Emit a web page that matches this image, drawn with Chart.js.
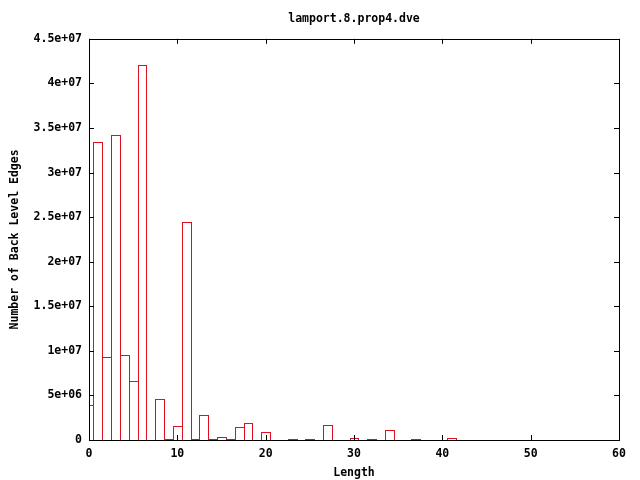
<!DOCTYPE html>
<html>
<head>
<meta charset="utf-8">
<script src="https://cdn.jsdelivr.net/npm/chart.js@4.4.1/dist/chart.umd.min.js"></script>
<style>
  html, body { margin: 0; padding: 0; background: #fff; }
  #wrap { width: 640px; height: 480px; }
</style>
</head>
<body>
<div id="wrap"><canvas id="chart" width="640" height="480"></canvas></div>
<script>
// lengths that appear in the data, and the edge count for each
const lengths = [0, 1, 2, 3, 4, 5, 6, 8, 9, 10, 11, 12, 13, 14, 15, 16, 17, 18, 20, 23, 25, 27, 30, 32, 34, 37, 41];
const edges = [3.96e6, 3.34e7, 9.34e6, 3.42e7, 9.56e6, 6.65e6, 4.21e7, 4.6e6, 1.0e5, 1.57e6, 2.44e7, 1.0e5, 2.84e6, 1.0e5,
               3.4e5, 1.0e5, 1.46e6, 1.9e6, 9.0e5, 1.0e5, 1.0e5, 1.72e6, 2.2e5, 1.0e5, 1.12e6, 1.0e5, 2.2e5];

const xTicks = [0, 10, 20, 30, 40, 50, 60];
const xTickLabels = ['0', '10', '20', '30', '40', '50', '60'];
const yTicks = [0, 5e6, 1e7, 1.5e7, 2e7, 2.5e7, 3e7, 3.5e7, 4e7, 4.5e7];
const yTickLabels = ['0', '5e+06', '1e+07', '1.5e+07', '2e+07', '2.5e+07', '3e+07', '3.5e+07', '4e+07', '4.5e+07'];

const FONT = { family: '"DejaVu Sans Mono", "Liberation Mono", monospace', size: 11.5, weight: 'bold' };

// snap box edges to whole pixels so neighbouring boxes share one 1px line
const snapPlugin = {
  id: 'snap',
  beforeDatasetsDraw(chart) {
    chart.getDatasetMeta(0).data.forEach(el => {
      const l = Math.round(el.x - el.width / 2);
      const r = Math.round(el.x + el.width / 2) + 1;
      el.x = (l + r) / 2;
      el.width = r - l;
      el.y = Math.round(el.y);
      el.base = Math.round(el.base) + 1;
      el.inflateAmount = 0;
    });
  }
};

// full box round the plot plus inward ticks on all four sides, like gnuplot
const framePlugin = {
  id: 'frame',
  afterDraw(chart) {
    const ctx = chart.ctx;
    const a = chart.chartArea;
    const tl = 5;
    ctx.save();
    ctx.strokeStyle = '#000';
    ctx.lineWidth = 1;
    ctx.beginPath();
    chart.scales.x.ticks.forEach(t => {
      const px = Math.round(chart.scales.x.getPixelForValue(t.value)) + 0.5;
      ctx.moveTo(px, a.bottom); ctx.lineTo(px, a.bottom - tl);
      ctx.moveTo(px, a.top); ctx.lineTo(px, a.top + tl);
    });
    chart.scales.y.ticks.forEach(t => {
      const py = Math.round(chart.scales.y.getPixelForValue(t.value)) + 0.5;
      ctx.moveTo(a.left, py); ctx.lineTo(a.left + tl, py);
      ctx.moveTo(a.right, py); ctx.lineTo(a.right - tl, py);
    });
    ctx.stroke();
    ctx.strokeRect(Math.round(a.left) + 0.5, Math.round(a.top) + 0.5,
                   Math.round(a.right - a.left), Math.round(a.bottom - a.top));
    ctx.restore();
  }
};

const points = lengths.map((l, i) => ({ x: l, y: edges[i] }));

new Chart(document.getElementById('chart'), {
  type: 'bar',
  data: {
    datasets: [{
      data: points,
      backgroundColor: 'rgba(255,255,255,0)',
      borderColor: 'rgb(224,16,32)',
      borderWidth: 1,
      borderSkipped: 'start',
      barPercentage: 1,
      categoryPercentage: 1,
      clip: 0
    }]
  },
  options: {
    responsive: false,
    animation: false,
    events: [],
    layout: { padding: { left: 0, right: 21, top: 0, bottom: 0 } },
    plugins: {
      legend: { display: false },
      tooltip: { enabled: false },
      title: {
        display: true,
        text: 'lamport.8.prop4.dve',
        color: '#000',
        font: FONT,
        fullSize: false,
        padding: { top: 12, bottom: 13 }
      }
    },
    scales: {
      x: {
        type: 'linear',
        min: 0,
        max: 60,
        offset: false,
        grid: { display: false, drawTicks: false },
        border: { display: false },
        afterBuildTicks: s => { s.ticks = xTicks.map(v => ({ value: v })); },
        ticks: {
          color: '#000',
          font: FONT,
          padding: 7,
          maxRotation: 0,
          callback: (v, i) => xTickLabels[i]
        },
        title: { display: true, text: 'Length', color: '#000', font: FONT, padding: { top: 1, bottom: 0 } },
        afterFit: s => { s.height = 40; }
      },
      y: {
        min: 0,
        max: 4.5e7,
        grid: { display: false, drawTicks: false },
        border: { display: false },
        afterBuildTicks: s => { s.ticks = yTicks.map(v => ({ value: v })); },
        ticks: {
          color: '#000',
          font: FONT,
          padding: 7,
          callback: (v, i) => yTickLabels[i]
        },
        title: { display: true, text: 'Number of Back Level Edges', color: '#000', font: FONT, padding: { top: 8, bottom: 0 } },
        afterFit: s => { s.width = 89; }
      }
    }
  },
  plugins: [snapPlugin, framePlugin]
});
</script>
</body>
</html>
